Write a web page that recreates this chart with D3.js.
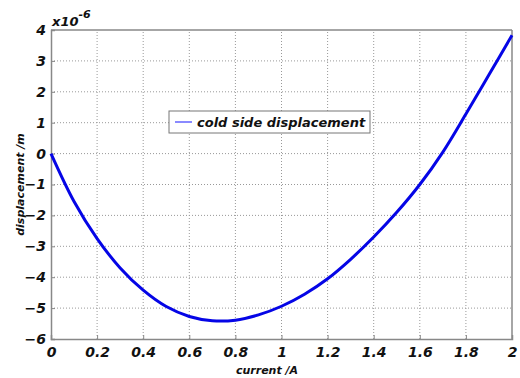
<!DOCTYPE html>
<html>
<head>
<meta charset="utf-8">
<script src="https://cdn.jsdelivr.net/npm/d3@7"></script>
<style>
  body { margin: 0; background: #fff; }
  text { font-family: "DejaVu Sans", Verdana, sans-serif; font-weight: bold; font-style: italic; fill: #111; }
</style>
</head>
<body>
<div id="chart"></div>
<script>
// data (displacement in units of 1e-6 m)
var current = [0, 0.1, 0.2, 0.3, 0.4, 0.5, 0.6, 0.7, 0.8, 0.9, 1.0,
               1.1, 1.2, 1.3, 1.4, 1.5, 1.6, 1.7, 1.8, 1.9, 2.0];
var displacement = [0, -1.55, -2.75, -3.7, -4.42, -4.95, -5.27, -5.41, -5.39, -5.22, -4.94,
                    -4.55, -4.05, -3.42, -2.7, -1.9, -1.0, 0.05, 1.28, 2.55, 3.83];
var xTicks = [0, 0.2, 0.4, 0.6, 0.8, 1, 1.2, 1.4, 1.6, 1.8, 2];
var yTicks = [-6, -5, -4, -3, -2, -1, 0, 1, 2, 3, 4];
var seriesName = "cold side displacement";

var w = 520, h = 378;
var margin = { left: 51, right: 8, top: 30, bottom: 39 };

var svg = d3.select("#chart")
    .append("svg")
    .attr("width", w)
    .attr("height", h);

var x = d3.scaleLinear().domain([0, 2]).range([margin.left, w - margin.right]);
var y = d3.scaleLinear().domain([-6, 4]).range([h - margin.bottom, margin.top]);

// grid
svg.append("g").selectAll("line")
    .data(xTicks.slice(1, -1))
    .enter().append("line")
    .attr("x1", function(d) { return x(d); })
    .attr("x2", function(d) { return x(d); })
    .attr("y1", y(-6)).attr("y2", y(4))
    .attr("stroke", "#999").attr("stroke-width", 1)
    .attr("stroke-dasharray", "1,2");

svg.append("g").selectAll("line")
    .data(yTicks.slice(1, -1))
    .enter().append("line")
    .attr("x1", x(0)).attr("x2", x(2))
    .attr("y1", function(d) { return y(d); })
    .attr("y2", function(d) { return y(d); })
    .attr("stroke", "#999").attr("stroke-width", 1)
    .attr("stroke-dasharray", "1,2");

// axes
var xAxis = d3.axisBottom(x).tickValues(xTicks).tickSize(-4).tickPadding(8)
    .tickFormat(function(d) { return d3.format("")(+d.toFixed(1)); });
var yAxis = d3.axisLeft(y).tickValues(yTicks).tickSize(-4).tickPadding(5);

svg.append("g")
    .attr("transform", "translate(0," + y(-6) + ")")
    .call(xAxis)
    .call(function(g) {
        g.select(".domain").attr("stroke", "#888").attr("stroke-width", 1.5);
        g.selectAll(".tick line").attr("stroke", "#888");
        g.selectAll("text").style("font-size", "14px").attr("fill", "#111");
    });

svg.append("g")
    .attr("transform", "translate(" + x(0) + ",0)")
    .call(yAxis)
    .call(function(g) {
        g.select(".domain").attr("stroke", "#888").attr("stroke-width", 1.5);
        g.selectAll(".tick line").attr("stroke", "#888");
        g.selectAll("text").style("font-size", "14px").attr("fill", "#111");
    });

// box top and right
svg.append("line")
    .attr("x1", x(0)).attr("x2", x(2)).attr("y1", y(4)).attr("y2", y(4))
    .attr("stroke", "#888").attr("stroke-width", 1.5);
svg.append("line")
    .attr("x1", x(2)).attr("x2", x(2)).attr("y1", y(4)).attr("y2", y(-6))
    .attr("stroke", "#888").attr("stroke-width", 1.5);

// curve
var line = d3.line()
    .x(function(d, i) { return x(current[i]); })
    .y(function(d) { return y(d); })
    .curve(d3.curveCatmullRom.alpha(0.5));

svg.append("path")
    .datum(displacement)
    .attr("fill", "none")
    .attr("stroke", "#0505e6")
    .attr("stroke-width", 3)
    .attr("stroke-linejoin", "round")
    .attr("d", line);

// exponent label
var expo = svg.append("text")
    .attr("x", 52).attr("y", 26)
    .style("font-size", "13px");
expo.append("tspan").text("x10");
expo.append("tspan").attr("dy", -8).style("font-size", "11px").text("-6");

// axis titles
svg.append("text")
    .attr("x", 267).attr("y", 374)
    .attr("text-anchor", "middle")
    .style("font-size", "11px")
    .text("current /A");

svg.append("text")
    .attr("transform", "translate(24," + ((y(4) + y(-6)) / 2) + ") rotate(-90)")
    .attr("text-anchor", "middle")
    .style("font-size", "11px")
    .text("displacement /m");

// legend
var legend = svg.append("g").attr("transform", "translate(169,111)");
legend.append("rect")
    .attr("width", 201).attr("height", 22)
    .attr("fill", "#fff").attr("stroke", "#777").attr("stroke-width", 1);
legend.append("line")
    .attr("x1", 6).attr("x2", 23).attr("y1", 11).attr("y2", 11)
    .attr("stroke", "#8a8aff").attr("stroke-width", 2);
legend.append("text")
    .attr("x", 28).attr("y", 16)
    .style("font-size", "13px")
    .text(seriesName);
</script>
</body>
</html>
